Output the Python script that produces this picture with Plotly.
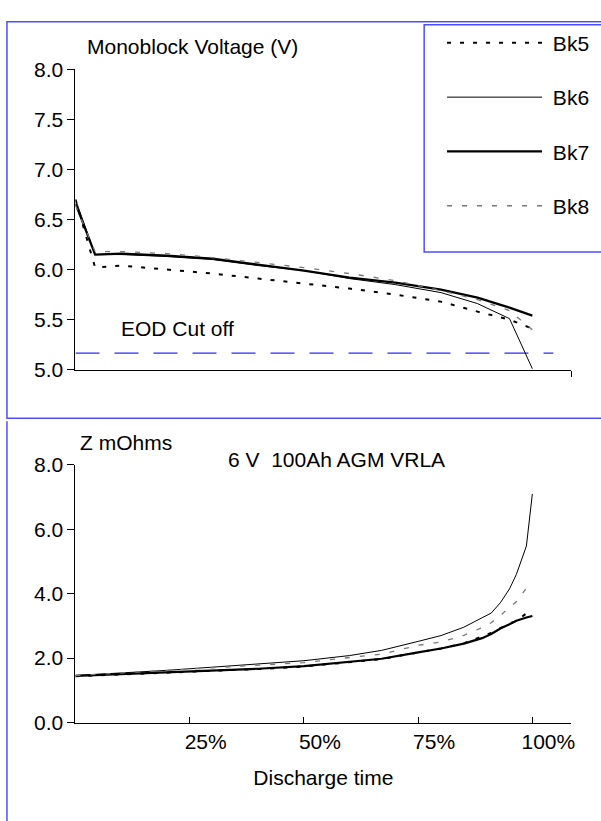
import plotly.graph_objects as go

W, H = 601, 821
FONT = "Liberation Sans, Arial, sans-serif"

series_names = ["Bk5", "Bk6", "Bk7", "Bk8"]

# ---- Top chart: monoblock voltage (V) vs discharge time (%) ----
v_time = [0, 4.3, 10, 20, 30, 40, 50, 60, 70, 80, 88, 95, 100]
v_bk5 = [6.70, 6.02, 6.04, 6.00, 5.96, 5.91, 5.86, 5.81, 5.75, 5.68, 5.58, 5.50, 5.41]
v_bk6 = [6.70, 6.15, 6.15, 6.13, 6.10, 6.04, 5.99, 5.91, 5.85, 5.77, 5.66, 5.51, 5.01]
v_bk7 = [6.66, 6.15, 6.16, 6.14, 6.11, 6.05, 5.99, 5.92, 5.87, 5.80, 5.72, 5.62, 5.54]
v_bk8 = [6.64, 6.18, 6.18, 6.16, 6.12, 6.07, 6.02, 5.96, 5.89, 5.79, 5.70, 5.59, 5.40]

eod_time = [0, 104.6]
eod_volt = [5.165, 5.165]

v_ticks = [5.0, 5.5, 6.0, 6.5, 7.0, 7.5, 8.0]

# ---- Bottom chart: impedance Z (mOhms) vs discharge time (%) ----
z_time = [0, 10, 20, 30, 40, 50, 60, 67, 75, 80, 85, 89, 91, 93, 95, 96.5, 98.7, 100]
z_bk5 = [1.44, 1.49, 1.54, 1.59, 1.66, 1.74, 1.87, 1.97, 2.18, 2.30, 2.46, 2.67, 2.78, 2.93, 3.08, 3.15, 3.39, 3.42]
z_bk6 = [1.46, 1.53, 1.62, 1.72, 1.81, 1.92, 2.08, 2.24, 2.52, 2.70, 2.96, 3.25, 3.40, 3.72, 4.15, 4.60, 5.48, 7.10]
z_bk7 = [1.45, 1.50, 1.55, 1.60, 1.67, 1.75, 1.88, 1.98, 2.18, 2.30, 2.45, 2.62, 2.75, 2.92, 3.05, 3.16, 3.26, 3.31]
z_bk8 = [1.46, 1.53, 1.62, 1.70, 1.77, 1.86, 2.02, 2.12, 2.40, 2.50, 2.71, 2.95, 3.10, 3.32, 3.58, 3.75, 4.17, 4.27]

z_ticks = [0, 2, 4, 6, 8]
time_tickvals = [25, 50, 75, 100]
time_ticktext = ["25%", "50%", "75%", "100%"]

# ---- styles ----
styles = {
    "Bk5": dict(color="black", width=2, dash="4px,9px"),
    "Bk6": dict(color="black", width=1),
    "Bk7": dict(color="black", width=2.2),
    "Bk8": dict(color="#777777", width=1.3, dash="5px,10px"),
}
BLUE = "#4d4dff"


def px(x):
    return x / W


def py(y):
    return 1 - y / H


fig = go.Figure()

v_data = {"Bk5": v_bk5, "Bk6": v_bk6, "Bk7": v_bk7, "Bk8": v_bk8}
z_data = {"Bk5": z_bk5, "Bk6": z_bk6, "Bk7": z_bk7, "Bk8": z_bk8}

fig.add_trace(go.Scatter(x=eod_time, y=eod_volt, mode="lines", showlegend=False,
                         line=dict(color="#2a2aff", width=1.2, dash="24px,15px"),
                         xaxis="x", yaxis="y"))

for n in series_names:
    fig.add_trace(go.Scatter(x=v_time, y=v_data[n], mode="lines", name="\u00a0" + n,
                             legendgroup=n, line=styles[n], xaxis="x", yaxis="y"))
for n in series_names:
    fig.add_trace(go.Scatter(x=z_time, y=z_data[n], mode="lines", name=n,
                             legendgroup=n, showlegend=False, line=styles[n],
                             xaxis="x2", yaxis="y2"))

xdom = [px(76), px(575)]
top_dom = [py(368), py(59)]
bot_dom = [py(731), py(466)]
tfont = dict(family=FONT, size=21, color="black")

common_axis = dict(showgrid=False, zeroline=False, showline=True, linecolor="black",
                   linewidth=1, tickcolor="black", tickwidth=1, tickfont=tfont)

fig.update_layout(
    width=W, height=H,
    margin=dict(l=0, r=0, t=0, b=0),
    paper_bgcolor="white", plot_bgcolor="rgba(0,0,0,0)",
    font=tfont,
    showlegend=True,
    legend=dict(x=px(445), y=py(11), xanchor="left", yanchor="top",
                bgcolor="rgba(0,0,0,0)", borderwidth=0, font=tfont,
                itemwidth=95, tracegroupgap=24, traceorder="grouped"),
    xaxis=dict(domain=xdom, range=[0, 108.5], anchor="y", tickvals=[108.5],
               ticks="outside", ticklen=6, showticklabels=False, **common_axis),
    yaxis=dict(domain=top_dom, range=[5, 8], anchor="x", tickvals=v_ticks,
               tickformat=".1f", ticks="outside", ticklen=7, **common_axis),
    xaxis2=dict(domain=xdom, range=[0, 108.5], anchor="y2", tickvals=time_tickvals,
                ticktext=time_ticktext, ticks="inside", ticklen=6, ticklabelshift=16,
                title=dict(text="Discharge time", font=tfont, standoff=18),
                **common_axis),
    yaxis2=dict(domain=bot_dom, range=[0, 8], anchor="x2", tickvals=z_ticks,
                tickformat=".1f", ticks="outside", ticklen=7, **common_axis),
    # overlay axes that supply the inner half of the crossing tick marks
    xaxis3=dict(domain=xdom, range=[0, 108.5], anchor="y", overlaying="x",
                tickvals=[108.5], ticks="inside", ticklen=6, showticklabels=False,
                showline=False, showgrid=False, zeroline=False, tickcolor="black"),
    yaxis3=dict(domain=top_dom, range=[5, 8], anchor="x", overlaying="y",
                tickvals=v_ticks[1:], ticks="inside", ticklen=7, showticklabels=False,
                showline=False, showgrid=False, zeroline=False, tickcolor="black"),
    yaxis4=dict(domain=bot_dom, range=[0, 8], anchor="x2", overlaying="y2",
                tickvals=z_ticks[1:], ticks="inside", ticklen=7, showticklabels=False,
                showline=False, showgrid=False, zeroline=False, tickcolor="black"),
)

# chart frames (decorative borders like the source document)
fig.add_shape(type="rect", xref="paper", yref="paper", x0=px(7), x1=px(640),
              y0=py(418), y1=py(10), line=dict(color=BLUE, width=1.5))
fig.add_shape(type="rect", xref="paper", yref="paper", x0=px(427), x1=px(640),
              y0=py(247), y1=py(13), line=dict(color=BLUE, width=1.5))
fig.add_shape(type="line", xref="paper", yref="paper", x0=px(7), x1=px(7),
              y0=py(421), y1=py(860), line=dict(color=BLUE, width=1.5))

ann = [
    ("Monoblock Voltage (V)", 86, 36),
    ("EOD Cut off", 120, 326),
    ("Z mOhms", 79, 443),
    ("6 V  100Ah AGM VRLA", 228, 460),
]
for text, x, y in ann:
    fig.add_annotation(text=text, xref="paper", yref="paper", x=px(x), y=py(y),
                       xanchor="left", yanchor="middle", showarrow=False, font=tfont)

fig.write_html(
    "out.html",
    config={"displayModeBar": False},
    post_script="document.body.style.margin='0px';"
                "document.documentElement.style.overflow='hidden';",
)
